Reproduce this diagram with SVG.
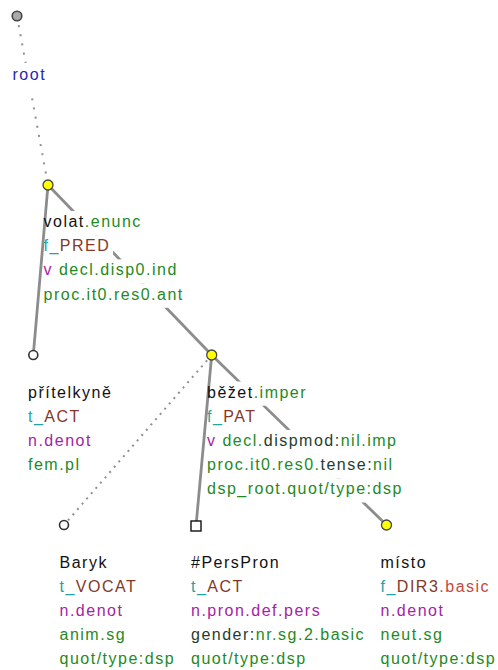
<svg xmlns="http://www.w3.org/2000/svg" width="498" height="670" viewBox="0 0 498 670">
<style>
text{font-family:"Liberation Sans",Arial,sans-serif;font-size:16px;letter-spacing:1.5px;fill:#111}
.g{fill:#238a23}.t{fill:#1fa3a3}.b{fill:#853828}.r{fill:#c24a3e}.p{fill:#a424a4}.d{fill:#1f3d2e}.bl{fill:#2727b0}
.bg{fill:#fff}
.e{stroke:#8c8c8c;stroke-width:2.8;fill:none}
.dt{stroke:#8f8f8f;stroke-width:2;fill:none;stroke-dasharray:2 5}
.dr{stroke:#8f8f8f;stroke-width:2;fill:none;stroke-dasharray:2 7.3}
.ny{fill:#ffff00;stroke:#444;stroke-width:1.3}
.nw{fill:#fff;stroke:#333;stroke-width:1.6}
</style>
<g id="connectors">
<line class="dr" x1="17" y1="16" x2="48" y2="185"/>
<line class="e" x1="48" y1="185" x2="33.3" y2="355"/>
<line class="e" x1="48" y1="185" x2="211.7" y2="355"/>
<line class="dt" x1="211.7" y1="355" x2="64" y2="525"/>
<line class="e" x1="211.7" y1="355" x2="196" y2="526"/>
<line class="e" x1="211.7" y1="355" x2="386.5" y2="525"/>
</g>
<g id="n-root">
<circle cx="17" cy="16" r="4.8" fill="#aaa" stroke="#444" stroke-width="1.6"/>
<rect class="bg" x="13" y="63" width="32" height="34"/>
<text x="12.5" y="79.5" class="bl">root</text>
</g>
<g id="n-volat">
<rect class="bg" x="47.5" y="211" width="97.5" height="24.2"/>
<rect class="bg" x="47.5" y="235.2" width="65.5" height="24.2"/>
<rect class="bg" x="47.5" y="259.4" width="130.5" height="24.2"/>
<rect class="bg" x="47.5" y="283.6" width="135.5" height="24.2"/>
<text x="43.5" y="227">volat<tspan class="g">.enunc</tspan></text>
<text x="43.5" y="251.2"><tspan class="t">f_</tspan><tspan class="b">PRED</tspan></text>
<text x="43.5" y="275.4"><tspan class="p">v</tspan> <tspan class="g">decl.disp0.ind</tspan></text>
<text x="43.5" y="299.6" class="g">proc.it0.res0.ant</text>
<circle class="ny" cx="48" cy="185" r="5"/>
</g>
<g id="n-pritelkyne">
<circle class="nw" cx="33.3" cy="355" r="4.5"/>
<text x="28" y="397.5">přítelkyně</text>
<text x="28" y="421.7"><tspan class="t">t_</tspan><tspan class="b">ACT</tspan></text>
<text x="28" y="445.9" class="p">n.denot</text>
<text x="28" y="470.1" class="g">fem.pl</text>
</g>
<g id="n-bezet">
<rect class="bg" x="211" y="381.5" width="97" height="24.2"/>
<rect class="bg" x="211" y="405.7" width="50" height="24.2"/>
<rect class="bg" x="211" y="429.9" width="186" height="24.2"/>
<rect class="bg" x="211" y="454.1" width="181" height="24.2"/>
<rect class="bg" x="211" y="478.3" width="194" height="24.2"/>
<text x="207" y="397.5">běžet<tspan class="g">.imper</tspan></text>
<text x="207" y="421.7"><tspan class="t">f_</tspan><tspan class="b">PAT</tspan></text>
<text x="207" y="445.9"><tspan class="p">v</tspan> <tspan class="g">decl.</tspan><tspan class="d">dispmod:</tspan><tspan class="g">nil.imp</tspan></text>
<text x="207" y="470.1"><tspan class="g">proc.it0.res0.</tspan><tspan class="d">tense:</tspan><tspan class="g">nil</tspan></text>
<text x="207" y="494.3" class="g">dsp_root.quot/type:dsp</text>
<circle class="ny" cx="211.7" cy="355" r="5"/>
</g>
<g id="n-baryk">
<circle class="nw" cx="64" cy="525" r="4.5"/>
<text x="59.5" y="567.5">Baryk</text>
<text x="59.5" y="591.7"><tspan class="t">t_</tspan><tspan class="b">VOCAT</tspan></text>
<text x="59.5" y="615.9" class="p">n.denot</text>
<text x="59.5" y="640.1" class="g">anim.sg</text>
<text x="59.5" y="664.3" class="g">quot/type:dsp</text>
</g>
<g id="n-perspron">
<rect x="191" y="521" width="10" height="10" fill="#fff" stroke="#111" stroke-width="1.4"/>
<text x="191" y="567.5">#PersPron</text>
<text x="191" y="591.7"><tspan class="t">t_</tspan><tspan class="b">ACT</tspan></text>
<text x="191" y="615.9" class="p">n.pron.def.pers</text>
<text x="191" y="640.1"><tspan class="d">gender:</tspan><tspan class="g">nr.sg.2.basic</tspan></text>
<text x="191" y="664.3" class="g">quot/type:dsp</text>
</g>
<g id="n-misto">
<circle class="ny" cx="386.5" cy="525" r="5"/>
<text x="380.5" y="567.5">místo</text>
<text x="380.5" y="591.7"><tspan class="t">f_</tspan><tspan class="b">DIR3</tspan><tspan class="r">.basic</tspan></text>
<text x="380.5" y="615.9" class="p">n.denot</text>
<text x="380.5" y="640.1" class="g">neut.sg</text>
<text x="380.5" y="664.3" class="g">quot/type:dsp</text>
</g>
</svg>
